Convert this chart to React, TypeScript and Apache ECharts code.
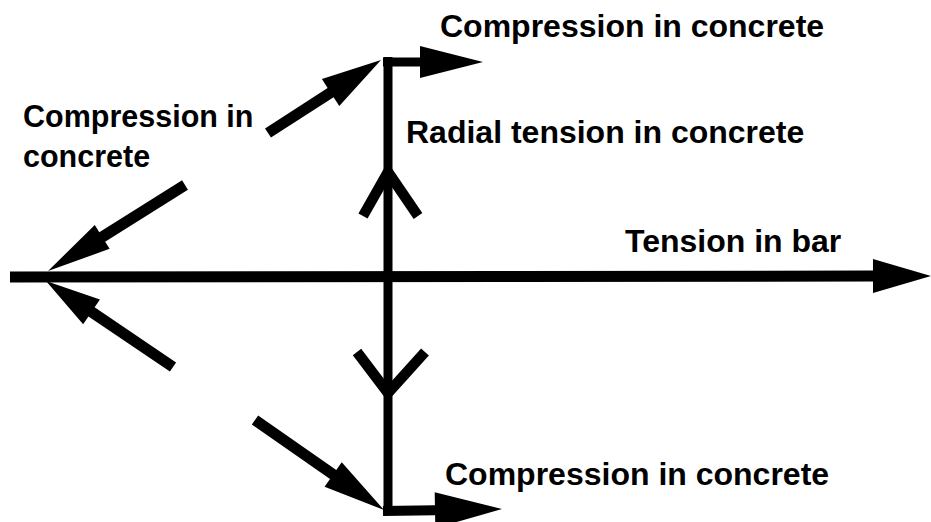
import React, { useEffect, useRef } from "react";
import * as echarts from "echarts";

// Diagram coordinates (x to the right, y downward)
const arrowNames = ["bar", "topRight", "bottomRight", "topDiag", "bottomDiag", "leftUpper", "leftLower"];
const arrowTailX = [10, 383, 383, 268, 255, 185, 173];
const arrowTailY = [277, 62, 511, 133, 420, 185, 367];
const arrowTipX = [931, 483, 502, 381, 384, 48, 46];
const arrowTipY = [276, 62, 509, 60, 510, 271, 281];

const segmentX1 = [388];
const segmentY1 = [57];
const segmentX2 = [388];
const segmentY2 = [515];

const chevronTipX = [388, 388];
const chevronTipY = [172, 393];
const chevronLeftX = [363, 357];
const chevronLeftY = [216, 352];
const chevronRightX = [418, 425];
const chevronRightY = [216, 352];

const labelTexts = [
  "Compression in concrete",
  "Radial tension in concrete",
  "Compression in",
  "concrete",
  "Tension in bar",
  "Compression in concrete",
];
const labelX = [440, 406, 23, 23, 625, 445];
const labelY = [26, 132, 116, 156, 241, 474];

// styles (head length, head half-width, shaft width) per arrow
const arrowStyle: Record<string, [number, number, number]> = {
  bar: [58, 17, 11],
  topRight: [63, 16, 9],
  bottomRight: [67, 18, 10],
  topDiag: [60, 16, 11],
  bottomDiag: [62, 15, 11],
  leftUpper: [64, 14, 11],
  leftLower: [55, 15, 11],
};
const labelFontSize = [32, 32, 30.5, 30.5, 32, 32];

export default function App() {
  const ref = useRef<HTMLDivElement>(null);
  useEffect(() => {
    if (!ref.current) return;
    const chart = echarts.init(ref.current, null, { renderer: "svg" });
    const ink = "#000000";

    const arrowData = arrowNames.map((n, i) => [arrowTailX[i], arrowTailY[i], arrowTipX[i], arrowTipY[i], i]);
    const segData = segmentX1.map((_, i) => [segmentX1[i], segmentY1[i], segmentX2[i], segmentY2[i]]);
    const chevData = chevronTipX.map((_, i) => [
      chevronTipX[i], chevronTipY[i], chevronLeftX[i], chevronLeftY[i], chevronRightX[i], chevronRightY[i],
    ]);
    const labelData = labelTexts.map((t, i) => [labelX[i], labelY[i], i]);

    chart.setOption({
      animation: false,
      backgroundColor: "#ffffff",
      grid: { left: 0, right: 0, top: 0, bottom: 0 },
      xAxis: { type: "value", min: 0, max: 931, show: false },
      yAxis: { type: "value", min: 0, max: 522, inverse: true, show: false },
      series: [
        {
          type: "custom",
          coordinateSystem: "cartesian2d",
          data: segData,
          renderItem: (params: any, api: any) => {
            const a = api.coord([api.value(0), api.value(1)]);
            const b = api.coord([api.value(2), api.value(3)]);
            return {
              type: "line",
              shape: { x1: a[0], y1: a[1], x2: b[0], y2: b[1] },
              style: { stroke: ink, lineWidth: 9 },
            };
          },
        },
        {
          type: "custom",
          coordinateSystem: "cartesian2d",
          data: arrowData,
          renderItem: (params: any, api: any) => {
            const t = api.coord([api.value(0), api.value(1)]);
            const p = api.coord([api.value(2), api.value(3)]);
            const [hl, hw, sw] = arrowStyle[arrowNames[api.value(4)]];
            const dx = p[0] - t[0];
            const dy = p[1] - t[1];
            const len = Math.sqrt(dx * dx + dy * dy);
            const ux = dx / len;
            const uy = dy / len;
            const nx = -uy;
            const ny = ux;
            const bx = p[0] - ux * hl;
            const by = p[1] - uy * hl;
            const s = sw / 2;
            const pts = [
              [t[0] + nx * s, t[1] + ny * s],
              [bx + nx * s, by + ny * s],
              [bx + nx * hw, by + ny * hw],
              [p[0], p[1]],
              [bx - nx * hw, by - ny * hw],
              [bx - nx * s, by - ny * s],
              [t[0] - nx * s, t[1] - ny * s],
            ];
            return { type: "polygon", shape: { points: pts }, style: { fill: ink } };
          },
        },
        {
          type: "custom",
          coordinateSystem: "cartesian2d",
          data: chevData,
          renderItem: (params: any, api: any) => {
            const tip = api.coord([api.value(0), api.value(1)]);
            const l = api.coord([api.value(2), api.value(3)]);
            const r = api.coord([api.value(4), api.value(5)]);
            return {
              type: "polyline",
              shape: { points: [l, tip, r] },
              style: { stroke: ink, lineWidth: 10.5, fill: "none", lineJoin: "miter" },
            };
          },
        },
        {
          type: "custom",
          coordinateSystem: "cartesian2d",
          data: labelData,
          renderItem: (params: any, api: any) => {
            const c = api.coord([api.value(0), api.value(1)]);
            const i = api.value(2);
            return {
              type: "text",
              x: c[0],
              y: c[1],
              style: {
                text: labelTexts[i],
                fill: ink,
                font: `bold ${labelFontSize[i]}px "Liberation Sans", Arial, sans-serif`,
                align: "left",
                verticalAlign: "middle",
              },
            };
          },
        },
      ],
    });
    return () => chart.dispose();
  }, []);

  return (
    <div
      ref={ref}
      style={{ position: "fixed", left: 0, top: 0, width: 931, height: 522, background: "#fff" }}
    />
  );
}
